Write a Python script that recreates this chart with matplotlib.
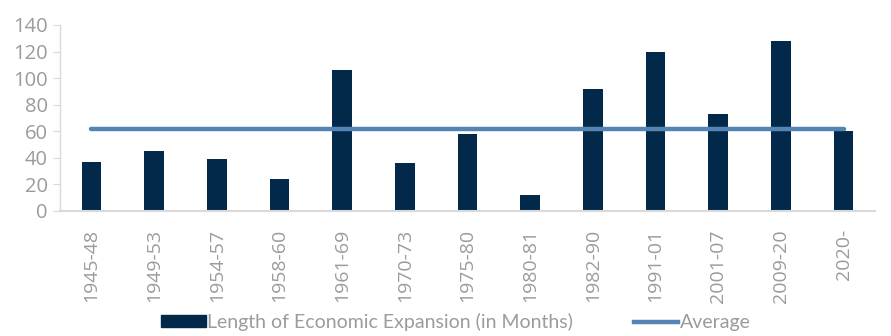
import matplotlib
matplotlib.use("Agg")
import matplotlib.pyplot as plt
from matplotlib.lines import Line2D
from matplotlib.patches import Patch

periods = ["1945-48", "1949-53", "1954-57", "1958-60", "1961-69", "1970-73",
           "1975-80", "1980-81", "1982-90", "1991-01", "2001-07", "2009-20", "2020-"]
months = [37, 45, 39, 24, 106, 36, 58, 12, 92, 120, 73, 128, 60]
average = [61.5] * len(periods)
yticks = [0, 20, 40, 60, 80, 100, 120, 140]

bar_color = "#022949"
line_color = "#5384B3"
text_gray = "#9B9B9B"
axis_gray = "#D9D9D9"

fig = plt.figure(figsize=(8.91, 3.36), dpi=100)
ax = fig.add_axes([60/891, 1-211/336, (875-60)/891, (211-25)/336])

x = list(range(len(periods)))
ax.bar(x, months, width=0.314, color=bar_color, zorder=2)
ax.plot(x, average, color=line_color, linewidth=3.2, solid_capstyle="round", zorder=3)

ax.set_xlim(-0.5, len(periods) - 0.5)
ax.set_ylim(0, 140)
ax.set_yticks(yticks)
ax.set_yticklabels([str(v) for v in yticks], fontsize=14.5, color=text_gray, family="Open Sans")
ax.set_xticks(x)
ax.set_xticklabels(periods, rotation=90, fontsize=14, color=text_gray, family="Open Sans")
ax.tick_params(axis="x", length=0, pad=13)
ax.tick_params(axis="y", length=5, color=axis_gray, pad=4)

for s in ["top", "right"]:
    ax.spines[s].set_visible(False)
ax.spines["left"].set_color(axis_gray)
ax.spines["bottom"].set_color(axis_gray)
ax.spines["left"].set_linewidth(1)
ax.spines["bottom"].set_linewidth(1.5)

handles = [Patch(facecolor=bar_color, edgecolor=bar_color),
           Line2D([0], [0], color=line_color, linewidth=3.2)]
labels = ["Length of Economic Expansion (in Months)", "Average"]
fig.legend(handles, labels, loc="center", bbox_to_anchor=(456/891, 1-322/336),
           ncol=2, frameon=False, prop={"family": "Lato", "size": 14},
           labelcolor=text_gray, handlelength=2.3, handleheight=0.55,
           handletextpad=0.1, columnspacing=3.1)

fig.savefig("out.png", dpi=100)
